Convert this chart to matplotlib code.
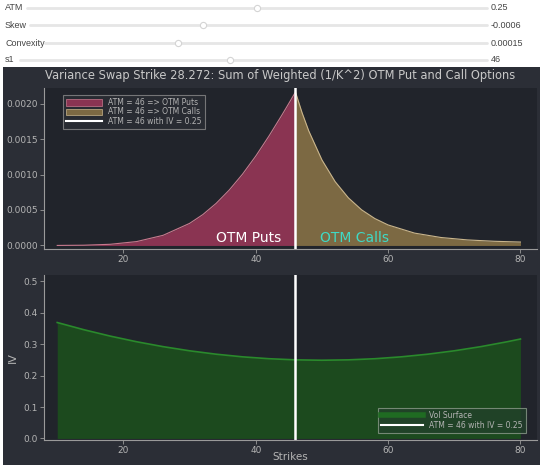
import matplotlib
matplotlib.use('Agg')
import matplotlib.pyplot as plt
from matplotlib.patches import Rectangle, Patch
from matplotlib.lines import Line2D

# Widget values shown above the chart
slider_names = ['ATM', 'Skew', 'Convexity', 's1']
slider_values = [0.25, -0.0006, 0.00015, 46]
slider_texts = ['0.25', '-0.0006', '0.00015', '46']
slider_ranges = [(0.0, 0.5), (-0.004, 0.005), (0.0, 0.0005), (10, 90)]

spot = 46
atm_iv = 0.25
var_strike = 28.272

# Weighted (1/K^2) OTM option prices
put_strikes = [10, 14, 18, 22, 26, 30, 32, 34, 36, 38, 40, 42, 44, 45, 46]
put_weights = [3.2e-7, 3.3e-6, 1.64e-5, 5.47e-5, 1.43e-4, 3.11e-4, 4.35e-4, 5.92e-4,
               7.82e-4, 1.005e-3, 1.260e-3, 1.543e-3, 1.846e-3, 2.003e-3, 2.163e-3]
call_strikes = [46, 47, 48, 50, 52, 54, 56, 58, 60, 64, 68, 72, 76, 80]
call_weights = [2.163e-3, 1.871e-3, 1.617e-3, 1.206e-3, 8.99e-4, 6.71e-4, 5.02e-4, 3.79e-4,
                2.89e-4, 1.74e-4, 1.12e-4, 7.8e-5, 5.9e-5, 4.8e-5]

# Vol surface
iv_strikes = [10, 14, 18, 22, 26, 30, 34, 38, 42, 46, 50, 54, 58, 62, 66, 70, 74, 78, 80]
iv_values = [0.3688, 0.3460, 0.3256, 0.3076, 0.2920, 0.2788, 0.2680, 0.2596, 0.2536, 0.2500,
             0.2488, 0.2500, 0.2536, 0.2596, 0.2680, 0.2788, 0.2920, 0.3076, 0.3163]

W, H = 540, 465
fig = plt.figure(figsize=(W / 100, H / 100), dpi=100)
fig.patch.set_facecolor('white')

def rect(x0, y0, x1, y1): # pixel box -> figure fraction
    return [x0 / W, 1 - y1 / H, (x1 - x0) / W, (y1 - y0) / H]

fig_bg = '#2b2e36'
ax_bg = '#21242b'
txt = '#b4b4b4'
spine_c = '#9a9a9a'

fig.add_artist(Rectangle((3 / W, 0), 1, 1 - 67 / H, transform=fig.transFigure,
                         facecolor=fig_bg, edgecolor='none', zorder=0))

# Sliders
wax = fig.add_axes(rect(0, 0, W, 67))
wax.set_xlim(0, W)
wax.set_ylim(67, 0)
wax.axis('off')
track_start = [27, 30, 45, 20]
rows_y = [8, 25, 43, 60]
for name, val, label, (lo, hi), xs, yy in zip(slider_names, slider_values, slider_texts,
                                              slider_ranges, track_start, rows_y):
    xe = 487
    wax.text(5, yy, name, fontsize=6.5, color='#444444', va='center', family='Liberation Sans')
    wax.plot([xs, xe], [yy, yy], color='#e6e6e6', lw=2, solid_capstyle='round')
    hx = xs + (val - lo) / (hi - lo) * (xe - xs)
    wax.scatter([hx], [yy], s=20, facecolor='white', edgecolor='#d4d4d4', lw=0.8, zorder=3)
    wax.text(491, yy, label, fontsize=6.5, color='#444444', va='center', family='Liberation Sans')

def style(ax):
    ax.set_facecolor(ax_bg)
    ax.spines.top.set_visible(False)
    ax.spines.right.set_visible(False)
    for s in ['left', 'bottom']:
        ax.spines[s].set_color(spine_c)
        ax.spines[s].set_linewidth(0.8)
    ax.tick_params(colors=spine_c, labelcolor=txt, labelsize=6.5, length=3, width=0.6, pad=1.5)
    ax.set_xlim(8, 82.5)
    ax.set_xticks([20, 40, 60, 80])

# Top: weighted OTM options
ax1 = fig.add_axes(rect(44, 88, 537, 249))
style(ax1)
ax1.set_ylim(-0.00005, 0.00222)
ax1.set_yticks([0, 0.0005, 0.001, 0.0015, 0.002])
ax1.set_yticklabels(['0.0000', '0.0005', '0.0010', '0.0015', '0.0020'])
put_c = '#8a3452'
call_c = '#7c6943'
ax1.fill_between(put_strikes, put_weights, color=put_c, lw=0)
ax1.plot(put_strikes, put_weights, color='#c77a8e', lw=0.8)
ax1.fill_between(call_strikes, call_weights, color=call_c, lw=0)
ax1.plot(call_strikes, call_weights, color='#c9b58c', lw=0.8)
ax1.axvline(spot, color='white', lw=1.8)
ax1.text(34, 0.0, 'OTM Puts', color='white', fontsize=10, va='bottom')
ax1.text(49.7, 0.0, 'OTM Calls', color='#3fd9c5', fontsize=10, va='bottom')
h1 = [Patch(facecolor=put_c, edgecolor='#c77a8e', lw=0.5),
      Patch(facecolor=call_c, edgecolor='#c9b58c', lw=0.5),
      Line2D([0], [0], color='white', lw=1.5)]
l1 = ax1.legend(h1, ['ATM = %d => OTM Puts' % spot, 'ATM = %d => OTM Calls' % spot,
                     'ATM = %d with IV = %.2f' % (spot, atm_iv)],
                loc='upper left', bbox_to_anchor=(0.03, 0.98), fontsize=5.5,
                frameon=True, fancybox=False, handlelength=4.8, handleheight=0.9,
                labelspacing=0.05, borderpad=0.4, labelcolor=txt)
l1.get_frame().set_facecolor('#2a2d35')
l1.get_frame().set_edgecolor('#8a8a8a')
l1.get_frame().set_linewidth(0.8)

fig.text(280 / W, 1 - 75 / H,
         'Variance Swap Strike %.3f: Sum of Weighted (1/K^2) OTM Put and Call Options' % var_strike,
         color='#c8c8c8', fontsize=8.3, ha='center', va='center')

# Bottom: vol surface
ax2 = fig.add_axes(rect(44, 275, 537, 440))
style(ax2)
ax2.set_ylim(-0.005, 0.52)
ax2.set_yticks([0, 0.1, 0.2, 0.3, 0.4, 0.5])
ax2.fill_between(iv_strikes, iv_values, color='#1c4a1e', lw=0)
ax2.plot(iv_strikes, iv_values, color='#2a8a2c', lw=1.2)
ax2.axvline(spot, color='white', lw=1.8)
ax2.set_ylabel('IV', color=txt, fontsize=8)
ax2.set_xlabel('Strikes', color=txt, fontsize=7.5)
ax2.xaxis.set_label_coords(0.5, -0.075)
h2 = [Line2D([0], [0], color='#1f6b22', lw=4),
      Line2D([0], [0], color='white', lw=1.5)]
l2 = ax2.legend(h2, ['Vol Surface', 'ATM = %d with IV = %.2f' % (spot, atm_iv)],
                loc='lower right', bbox_to_anchor=(0.985, 0.02), fontsize=5.5,
                frameon=True, fancybox=False, handlelength=5.5, labelspacing=0.1,
                borderpad=0.4, labelcolor=txt)
l2.get_frame().set_facecolor('#22402a')
l2.get_frame().set_edgecolor('#8a9a8a')
l2.get_frame().set_linewidth(0.8)

fig.savefig('out.png', dpi=100)
